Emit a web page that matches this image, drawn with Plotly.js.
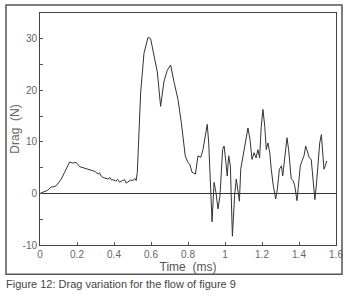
<!DOCTYPE html>
<html>
<head>
<meta charset="utf-8">
<script src="https://cdn.plot.ly/plotly-3.0.1.min.js"></script>
<style>html,body{margin:0;padding:0;background:#fff;}#chart{width:353px;height:299px;}</style>
</head>
<body>
<div id="chart"></div>
<script>
const timeMs = [0,0.02,0.04,0.061,0.075,0.088,0.1,0.115,0.133,0.148,
0.16,0.175,0.196,0.214,0.235,0.26,0.286,0.3,0.314,0.322,0.33,0.34,
0.355,0.368,0.378,0.386,0.395,0.41,0.42,0.43,0.445,0.458,0.466,0.476,0.49,0.503,
0.512,0.52,0.526,0.533,0.544,0.562,0.584,0.598,0.616,0.634,0.652,
0.67,0.688,0.706,0.724,0.746,0.764,0.785,0.8,0.809,0.822,
0.84,0.854,0.869,0.881,0.894,0.904,0.912,0.921,0.93,0.941,
0.951,0.962,0.973,0.987,0.995,1.005,1.012,1.02,1.029,1.04,
1.052,1.061,1.07,1.078,1.085,1.097,1.11,1.124,1.135,1.146,
1.157,1.168,1.178,1.187,1.196,1.205,1.215,1.223,1.232,1.242,
1.25,1.261,1.274,1.283,1.294,1.305,1.312,1.323,1.335,1.344,
1.35,1.358,1.368,1.377,1.389,1.398,1.407,1.416,1.427,1.436,
1.445,1.456,1.466,1.474,1.481,1.486,1.495,1.503,1.512,1.521,
1.528,1.535,1.542,1.55];
const dragN = [0,0.3,0.6,1.25,1.3,1.5,2.0,2.8,4.1,5.3,
6.1,5.9,6.0,5.2,5.0,4.7,4.4,4.2,3.75,4.0,3.4,3.1,
3.0,2.8,3.1,2.6,2.65,2.4,2.75,2.15,2.5,2.65,2.0,2.3,2.6,2.5,
2.9,2.5,4.1,10,19.5,27.2,30.3,30.0,26.5,23.6,16.9,
21.7,23.9,24.9,21.7,18.2,13.7,7.3,6.0,5.7,4.1,
3.75,7.3,7.0,8.5,11.1,13.4,9.8,1.5,-5.5,2.15,
0.2,-3.0,-0.4,8.5,9.2,6.0,3.4,7.3,5.35,-8.3,
-0.4,2.8,0.9,-1.5,4.7,7.3,9.8,12.7,10.5,6.6,
7.9,6.9,8.5,6.9,13.0,16.3,13.0,8.5,9.8,7.9,
4.7,1.5,-1.06,0.87,4.7,5.35,3.4,6.6,10.8,8.5,
5.35,2.8,2.5,1.5,-1.4,1.5,5.35,6.3,7.3,9.2,
8.2,6.9,6.6,3.4,0.87,-1.2,2.15,6.0,9.8,11.4,
8.5,4.7,5.35,6.3];
const xTickVals = [0,0.2,0.4,0.6,0.8,1,1.2,1.4,1.6];
const xTickText = ['0','0.2','0.4','0.6','0.8','1','1.2','1.4','1.6'];
const yTickVals = [-10,0,10,20,30];
const yTickText = ['-10','0','10','20','30'];
const xTitle = 'Time  (ms)';
const yTitle = 'Drag  (N)';
const caption = 'Figure 12: Drag variation for the flow of figure 9';

const font = 'Liberation Sans, Arial, sans-serif';
const trace = {x: timeMs, y: dragN, type: 'scatter', mode: 'lines',
  line: {color: '#333', width: 1}, hoverinfo: 'skip'};
const layout = {
  width: 353, height: 299,
  margin: {l: 40, r: 17, t: 12.5, b: 53.5},
  paper_bgcolor: '#fff', plot_bgcolor: '#fff',
  showlegend: false,
  font: {family: font, color: '#555', size: 10},
  xaxis: {range: [0, 1.6], tickvals: xTickVals, ticktext: xTickText,
    ticks: 'inside', ticklen: 3, tickcolor: '#555', showgrid: false, zeroline: false,
    showline: true, linecolor: '#444', linewidth: 1, mirror: true,
    tickfont: {family: font, size: 10, color: '#666'},
    title: {text: xTitle, font: {family: font, size: 12, color: '#555'}, standoff: 1}},
  yaxis: {range: [-10, 35], tickvals: yTickVals, ticktext: yTickText,
    ticks: 'inside', ticklen: 3, tickcolor: '#555', showgrid: false,
    zeroline: true, zerolinecolor: '#333', zerolinewidth: 1,
    showline: true, linecolor: '#444', linewidth: 1, mirror: true,
    minor: {tickvals: [-5, 5, 15, 25], ticks: 'inside', ticklen: 3, tickcolor: '#555'},
    tickfont: {family: font, size: 10, color: '#666'},
    title: {text: yTitle, font: {family: font, size: 12, color: '#666'}, standoff: 0}},
  shapes: [{type: 'rect', xref: 'paper', yref: 'paper',
    x0: -0.1149, x1: 1.0203, y0: -0.1266, y1: 1.0343,
    line: {color: '#555', width: 1.5}, fillcolor: 'rgba(0,0,0,0)'}],
  annotations: [{text: caption, xref: 'paper', yref: 'paper',
    x: -0.12, y: -0.1695, xanchor: 'left', yanchor: 'middle', showarrow: false,
    font: {family: font, size: 11, color: '#444'}}]
};
Plotly.newPlot('chart', [trace], layout, {displayModeBar: false, staticPlot: true});
</script>
</body>
</html>
